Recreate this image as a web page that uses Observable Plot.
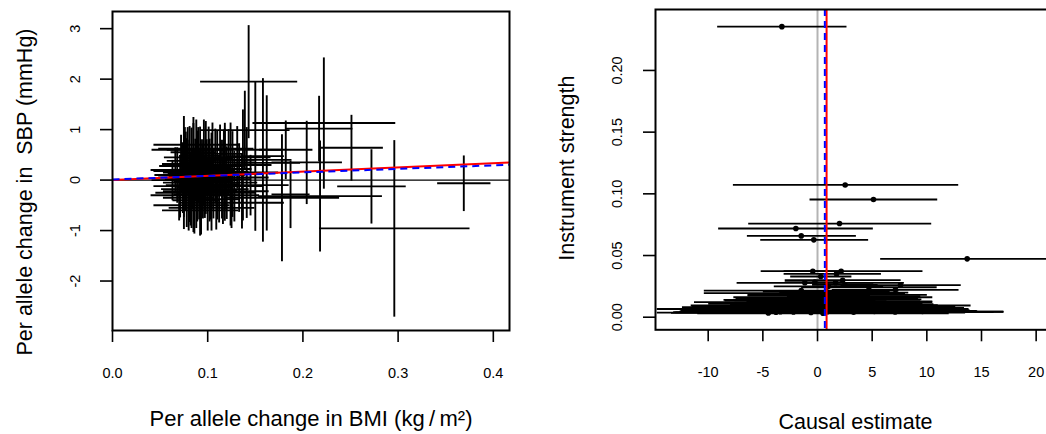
<!DOCTYPE html>
<html><head><meta charset="utf-8">
<script src="https://cdn.jsdelivr.net/npm/d3@7"></script>
<script src="https://cdn.jsdelivr.net/npm/@observablehq/plot@0.6"></script>
<style>
html,body{margin:0;padding:0;background:#fff;}
#wrap{position:relative;width:1046px;height:434px;overflow:hidden;background:#fff;}
#left{position:absolute;left:0;top:0;width:523px;height:434px;}
#right{position:absolute;left:523px;top:0;width:523px;height:434px;overflow:hidden;}
#wrap svg{max-width:none !important;display:block;}
</style></head><body><div id="wrap"><div id="left"></div><div id="right"></div></div>
<script>
// ---------- Left panel: per-allele associations (crosses = 95% CIs) ----------
const bmiEst = [0.296,0.369,0.272,0.251,0.222,0.218,0.143,0.158,0.162,0.150,0.137,0.178,0.204,0.182,0.187,0.217,0.139,0.118,0.124,
  0.068,0.071,0.072,0.074,0.075,0.076,0.077,0.078,0.079,0.080,0.081,0.082,0.083,0.084,0.085,0.086,0.087,0.088,0.089,0.090,
  0.091,0.092,0.093,0.094,0.095,0.096,0.097,0.098,0.099,0.100,0.101,0.102,0.103,0.104,0.105,0.106,0.108,0.109,0.110,0.112,
  0.113,0.115,0.116,0.118,0.120,0.122,0.124,0.126,0.128,0.131,0.133,0.136,0.141,0.063,0.066,0.070,0.079,0.083,0.088,0.092,
  0.098,0.104,0.117,0.125,0.145,0.075,0.085];
const bmiHalfCI = [0.079,0.028,0.036,0.033,0.075,0.065,0.051,0.030,0.035,0.030,0.030,0.060,0.037,0.028,0.020,0.035,0.047,0.025,0.025,
  0.024,0.028,0.020,0.026,0.030,0.022,0.034,0.025,0.030,0.027,0.023,0.031,0.026,0.029,0.024,0.033,0.028,0.025,0.030,0.026,
  0.035,0.022,0.029,0.027,0.031,0.024,0.030,0.028,0.026,0.033,0.025,0.030,0.028,0.024,0.032,0.027,0.030,0.025,0.029,0.031,
  0.026,0.030,0.034,0.028,0.032,0.027,0.030,0.033,0.029,0.035,0.031,0.028,0.033,0.022,0.026,0.030,0.038,0.040,0.045,0.040,
  0.050,0.045,0.060,0.055,0.040,0.022,0.025];
const sbpEst = [-0.957,-0.063,-0.125,0.640,1.130,-0.317,1.950,0.400,0.340,0.475,0.300,-0.350,0.350,0.600,-0.284,1.020,0.990,0.165,0.400,
  0.10,-0.12,0.32,0.05,-0.25,0.45,0.18,-0.05,0.28,-0.35,0.12,-0.18,0.38,0.02,0.55,-0.22,0.20,-0.40,0.08,0.30,
  -0.10,0.48,-0.28,0.15,-0.02,0.35,-0.15,0.05,0.25,-0.30,0.42,0.00,-0.20,0.18,0.52,-0.08,0.28,-0.38,0.10,-0.18,
  0.40,0.02,-0.25,0.22,-0.05,0.35,-0.30,0.12,-0.12,0.45,0.05,-0.22,0.15,0.00,0.20,-0.30,0.60,-0.50,0.70,-0.60,
  0.62,-0.55,0.60,-0.45,-0.10,0.15,0.05];
const sbpHalfCI = [1.749,0.551,0.736,0.653,1.300,1.100,1.120,1.620,1.340,1.480,1.100,1.260,0.825,0.580,0.667,0.650,0.780,0.970,0.740,
  0.55,0.62,0.58,0.70,0.48,0.60,0.78,0.88,0.52,0.65,0.95,0.72,0.66,0.60,0.70,0.84,0.62,0.55,0.90,0.75,
  0.68,0.58,0.80,0.66,0.74,0.85,0.60,0.72,0.56,0.70,0.64,0.82,0.58,0.76,0.62,0.68,0.74,0.60,0.88,0.66,
  0.70,0.78,0.62,0.80,0.72,0.66,0.60,0.85,0.70,0.62,0.68,0.74,0.90,0.40,0.45,0.50,0.45,0.45,0.50,0.50,
  0.55,0.45,0.40,0.50,0.60,1.12,1.08];
const leftXTicks = [0, 0.1, 0.2, 0.3, 0.4];
const leftYTicks = [-2, -1, 0, 1, 2, 3];
const leftFitIVW = {intercept: 0, slope: 0.84};
const leftFitEgger = {intercept: 0.012, slope: 0.70};

// ---------- Right panel: funnel plot ----------
const causalEst = [-3.26,2.53,5.12,2.01,-1.98,-1.49,-0.34,13.69,
  -3.8,-3.4,-2.2,-0.6,0.9,3.3,5.2,7.1,9.6,1.0,-1.5,2.0,4.2,-2.8,0.3,6.1,-1.0,1.5,3.0,-0.2,2.5,-2.2,1.2,0.5,3.8,-0.9,1.8,0.0,
  -0.4,4.5,-1.6,1.0,2.2,-0.5,1.5,3.3,-0.8,1.8,0.4,-1.2,2.4,0.8,-1.49,7.13,4.70,1.0,2.5,7.59,-1.16,-0.24,1.65,-0.43,2.16,1.74,
  0.3,2.3,-4.5,0.5,2.8,-1.8,-0.45,5.0,-2.5,0.8,3.5,-0.1,2.0,3.0];
const strength = [0.2355,0.1072,0.0954,0.0759,0.0719,0.0659,0.0627,0.0473,
  0.0040,0.0045,0.0042,0.0038,0.0044,0.0041,0.0046,0.0043,0.0046,0.0048,0.0055,0.0052,0.0058,0.0060,0.0065,0.0062,0.0070,0.0072,0.0078,0.0081,0.0085,0.0090,0.0095,0.0100,0.0105,0.0108,0.0112,0.0118,
  0.0122,0.0128,0.0135,0.0141,0.0148,0.0155,0.0162,0.0170,0.0176,0.0181,0.0188,0.0195,0.0200,0.0208,0.0216,0.0222,0.0243,0.0250,0.0262,0.0260,0.0279,0.0284,0.0279,0.0373,0.0373,0.0351,
  0.0330,0.0300,0.0035,0.0032,0.0050,0.0066,0.0068,0.0075,0.0083,0.0088,0.0098,0.0130,0.0145,0.0115];
const ciLow = [-9.18,-7.74,-0.73,-6.34,-9.09,-6.46,-5.24,5.73,
  -13.0,-12.6,-13.2,-14.7,-12.6,-9.5,-6.6,-2.8,2.2,-12.6,-12.5,-10.5,-5.5,-11.0,-14.7,-0.5,-10.8,-9.0,-6.2,-12.4,-6.5,-9.6,-11.6,-8.0,-3.0,-10.0,-6.0,-7.6,
  -11.3,-1.5,-8.5,-8.6,-4.8,-7.5,-7.7,-2.8,-6.4,-6.4,-5.6,-10.4,-3.5,-5.0,-10.4,1.3,-1.5,-4.0,-0.5,2.1,-7.4,-3.0,-1.0,-3.1,-5.2,-3.1,
  -2.5,-3.0,-13.4,-11.0,-9.0,-12.0,-14.7,-3.4,-11.5,-11.0,-4.0,-6.5,-5.5,-3.3];
const ciHigh = [2.65,12.87,10.95,10.40,5.06,3.51,4.63,21.65,
  5.4,5.8,8.8,13.5,14.4,16.1,17.0,17.0,17.0,14.6,9.5,14.5,13.9,5.4,13.8,12.7,8.8,12.0,12.2,12.0,11.5,5.2,14.0,9.0,10.6,8.2,9.6,7.6,
  10.5,10.5,5.3,9.4,9.2,6.5,10.5,9.4,4.8,10.0,6.4,8.0,8.3,6.6,7.4,12.9,10.9,6.0,5.5,13.1,5.1,2.5,7.9,2.3,9.6,5.8,
  3.1,7.6,4.4,12.0,14.6,8.4,13.8,13.4,6.5,12.6,11.0,6.3,9.5,9.3];
const rightXTicks = [-10, -5, 0, 5, 10, 15, 20];
const rightYTicks = [0, 0.05, 0.10, 0.15, 0.20];
const ivwCausal = 0.83;
const eggerCausal = 0.67;

const FONT = "Liberation Sans, Arial, Helvetica, sans-serif";
const leftRows = bmiEst.map((x, i) => ({x, hx: bmiHalfCI[i], y: sbpEst[i], hy: sbpHalfCI[i]}));
const rightRows = causalEst.map((e, i) => ({e, s: strength[i], lo: ciLow[i], hi: ciHigh[i]}));

const lxDomain = [0, 0.417];
const lyDomain = [-2.98, 3.34];
const fitRow = f => [{x1: lxDomain[0], x2: lxDomain[1], y1: f.intercept + f.slope * lxDomain[0], y2: f.intercept + f.slope * lxDomain[1]}];

const leftPlot = Plot.plot({
  width: 523, height: 434,
  marginLeft: 112, marginRight: 14, marginTop: 11, marginBottom: 104,
  x: {domain: lxDomain},
  y: {domain: lyDomain},
  style: {fontFamily: FONT, background: "white", color: "black", overflow: "visible", maxWidth: "none"},
  marks: [
    Plot.ruleY([0], {stroke: "black", strokeWidth: 1.3}),
    Plot.link(leftRows, {x1: d => d.x - d.hx, x2: d => d.x + d.hx, y1: "y", y2: "y", stroke: "black", strokeWidth: 1.9}),
    Plot.link(leftRows, {x1: "x", x2: "x", y1: d => d.y - d.hy, y2: d => d.y + d.hy, stroke: "black", strokeWidth: 1.9}),
    Plot.link(fitRow(leftFitIVW), {x1: "x1", x2: "x2", y1: "y1", y2: "y2", stroke: "red", strokeWidth: 2}),
    Plot.link(fitRow(leftFitEgger), {x1: "x1", x2: "x2", y1: "y1", y2: "y2", stroke: "blue", strokeWidth: 2, strokeDasharray: "7,5"}),
    Plot.frame({stroke: "black", strokeWidth: 2}),
    Plot.axisX({ticks: leftXTicks, tickSize: 12, tickPadding: 25, tickFormat: d => d.toFixed(1), fontSize: 14.5, label: null, strokeWidth: 1.6}),
    Plot.axisY({ticks: leftYTicks, tickSize: 12, tickFormat: () => "", label: null, strokeWidth: 1.6}),
    Plot.text(leftYTicks, {y: d => d, text: d => String(d), frameAnchor: "left", dx: -37, rotate: -90, fontSize: 14.5, textAnchor: "middle", lineAnchor: "middle"}),
    Plot.text(["Per allele change in BMI (kg\u2009/\u2009m²)"], {text: d => d, frameAnchor: "bottom", dy: 88, fontSize: 22, textAnchor: "middle", lineAnchor: "middle"}),
    Plot.text(["Per allele change in  SBP (mmHg)"], {text: d => d, frameAnchor: "left", dx: -87, dy: 21, rotate: -90, fontSize: 21.5, textAnchor: "middle", lineAnchor: "middle"})
  ]
});
document.getElementById("left").appendChild(leftPlot);

const rightPlot = Plot.plot({
  width: 560, height: 434,
  marginLeft: 132, marginRight: 14, marginTop: 9, marginBottom: 104.7,
  x: {domain: [-14.82, 23.05]},
  y: {domain: [-0.0102, 0.2494]},
  style: {fontFamily: FONT, background: "white", color: "black", overflow: "visible", maxWidth: "none"},
  marks: [
    Plot.ruleX([0], {stroke: "#b4b4b4", strokeWidth: 2}),
    Plot.link(rightRows, {x1: "lo", x2: "hi", y1: "s", y2: "s", stroke: "black", strokeWidth: 1.8}),
    Plot.dot(rightRows, {x: "e", y: "s", r: 2.8, fill: "black", stroke: "none"}),
    Plot.ruleX([ivwCausal], {stroke: "red", strokeWidth: 2}),
    Plot.ruleX([eggerCausal], {stroke: "blue", strokeWidth: 2, strokeDasharray: "7,5"}),
    Plot.frame({stroke: "black", strokeWidth: 2}),
    Plot.axisX({ticks: rightXTicks, tickSize: 12, tickPadding: 25, tickFormat: d => String(d), fontSize: 14.5, label: null, strokeWidth: 1.6}),
    Plot.axisY({ticks: rightYTicks, tickSize: 12, tickFormat: () => "", label: null, strokeWidth: 1.6}),
    Plot.text(rightYTicks, {y: d => d, text: d => d.toFixed(2), frameAnchor: "left", dx: -38, rotate: -90, fontSize: 14.5, textAnchor: "middle", lineAnchor: "middle"}),
    Plot.text(["Causal estimate"], {text: d => d, frameAnchor: "bottom", dx: -7, dy: 92.7, fontSize: 21.5, textAnchor: "middle", lineAnchor: "middle"}),
    Plot.text(["Instrument strength"], {text: d => d, frameAnchor: "left", dx: -88, dy: -1.5, rotate: -90, fontSize: 21.5, textAnchor: "middle", lineAnchor: "middle"})
  ]
});
document.getElementById("right").appendChild(rightPlot);
</script></body></html>
